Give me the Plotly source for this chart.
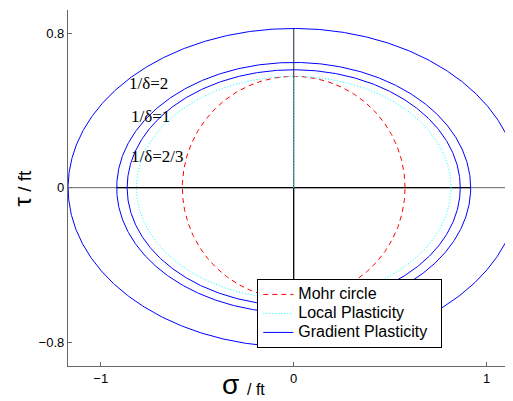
import numpy as np
import plotly.graph_objects as go

# ---- data ----
mohr_radius = [0.577]
local_axes = [0.815, 0.577]                 # semi-axis sigma, semi-axis tau
gradient_a = [1.169, 0.917, 0.863]          # semi-axis along sigma
gradient_b = [0.825, 0.649, 0.611]          # semi-axis along tau
delta_labels = ["1/δ=2", "1/δ=1", "1/δ=2/3"]
label_sigma = [-0.864, -0.855, -0.855]
label_tau = [0.542, 0.368, 0.161]
x_ticks = [-1, 0, 1]
y_ticks = [-0.8, 0, 0.8]
x_range = [-1.1694, 1.1363]
y_range = [-0.9238, 0.9207]
hline_black = [-0.917, 0.917]
vline_black = [-0.825, 0.0]
vline_grey = [0.0, 0.825]
local_vline = [0.0, 0.577]
legend_names = ["Mohr circle", "Local Plasticity", "Gradient Plasticity"]

t = np.linspace(0, 2 * np.pi, 721)

fig = go.Figure()

# reference lines through the origin
fig.add_trace(go.Scatter(x=x_range, y=[0, 0], mode="lines",
                         line=dict(color="#666666", width=1), showlegend=False, hoverinfo="skip"))
fig.add_trace(go.Scatter(x=hline_black, y=[0, 0], mode="lines",
                         line=dict(color="black", width=1.3), showlegend=False, hoverinfo="skip"))
fig.add_trace(go.Scatter(x=[0, 0], y=vline_black, mode="lines",
                         line=dict(color="black", width=1.3), showlegend=False, hoverinfo="skip"))
fig.add_trace(go.Scatter(x=[0, 0], y=vline_grey, mode="lines",
                         line=dict(color="#555566", width=1.3), showlegend=False, hoverinfo="skip"))

LEG = "<span style='font-size:16px'>%s</span>"

# Mohr circle
r = mohr_radius[0]
fig.add_trace(go.Scatter(x=r * np.cos(t), y=r * np.sin(t), mode="lines",
                         name=LEG % legend_names[0],
                         line=dict(color="#ff0000", width=1, dash="5px,4px")))
# Local plasticity
fig.add_trace(go.Scatter(x=local_axes[0] * np.cos(t), y=local_axes[1] * np.sin(t), mode="lines",
                         name=LEG % legend_names[1],
                         line=dict(color="#00ffff", width=1, dash="1px,2px")))
fig.add_trace(go.Scatter(x=[0, 0], y=local_vline, mode="lines", showlegend=False,
                         line=dict(color="#00ffff", width=1, dash="1px,2px")))
# Gradient plasticity
for i, (a, b) in enumerate(zip(gradient_a, gradient_b)):
    fig.add_trace(go.Scatter(x=a * np.cos(t), y=b * np.sin(t), mode="lines",
                             name=LEG % (legend_names[2] + "\u00a0\u00a0"), showlegend=(i == 0),
                             line=dict(color="#0000ff", width=1)))

for txt, xs, ys in zip(delta_labels, label_sigma, label_tau):
    fig.add_annotation(x=xs, y=ys, xref="x", yref="y", text=txt, showarrow=False,
                       xanchor="left", yanchor="middle",
                       font=dict(family="Liberation Serif", size=17, color="black"))

# axis titles
fig.add_annotation(xref="paper", yref="paper", x=-0.1043, y=0.5, textangle=-90,
                   text="<span style='font-size:24px'>τ</span><span style='font-size:19px'> / ft</span>",
                   showarrow=False, xanchor="center", yanchor="middle",
                   font=dict(family="Liberation Sans", color="black"))
fig.add_annotation(xref="paper", yref="paper", x=0.3652, y=-0.0506, text="σ",
                   showarrow=False, xanchor="center", yanchor="middle",
                   font=dict(family="Liberation Sans", size=28, color="black"))
fig.add_annotation(xref="paper", yref="paper", x=0.423, y=-0.0668, text="/ ft",
                   showarrow=False, xanchor="center", yanchor="middle",
                   font=dict(family="Liberation Sans", size=16, color="black"))

axis_common = dict(showgrid=False, zeroline=False, showline=True, linecolor="#666666",
                   linewidth=1.3, ticks="inside", ticklen=4, tickcolor="#666666",
                   tickfont=dict(family="Liberation Sans", size=13, color="black"), mirror=False)

fig.update_layout(
    width=505, height=393,
    margin=dict(l=60, r=0, t=2, b=35, autoexpand=False),
    paper_bgcolor="white", plot_bgcolor="white",
    xaxis=dict(range=x_range, tickvals=x_ticks, ticktext=["\u22121", "0", "1"], **axis_common),
    yaxis=dict(range=y_range, tickvals=y_ticks, ticktext=["\u22120.8", "0", "0.8"], **axis_common),
    legend=dict(x=0.4254, y=0.2446, xanchor="left", yanchor="top",
                bgcolor="white", bordercolor="black", borderwidth=1,
                font=dict(family="Liberation Sans", size=11, color="black"),
                tracegroupgap=0),
    showlegend=True,
)

fig.write_html("out.html")
